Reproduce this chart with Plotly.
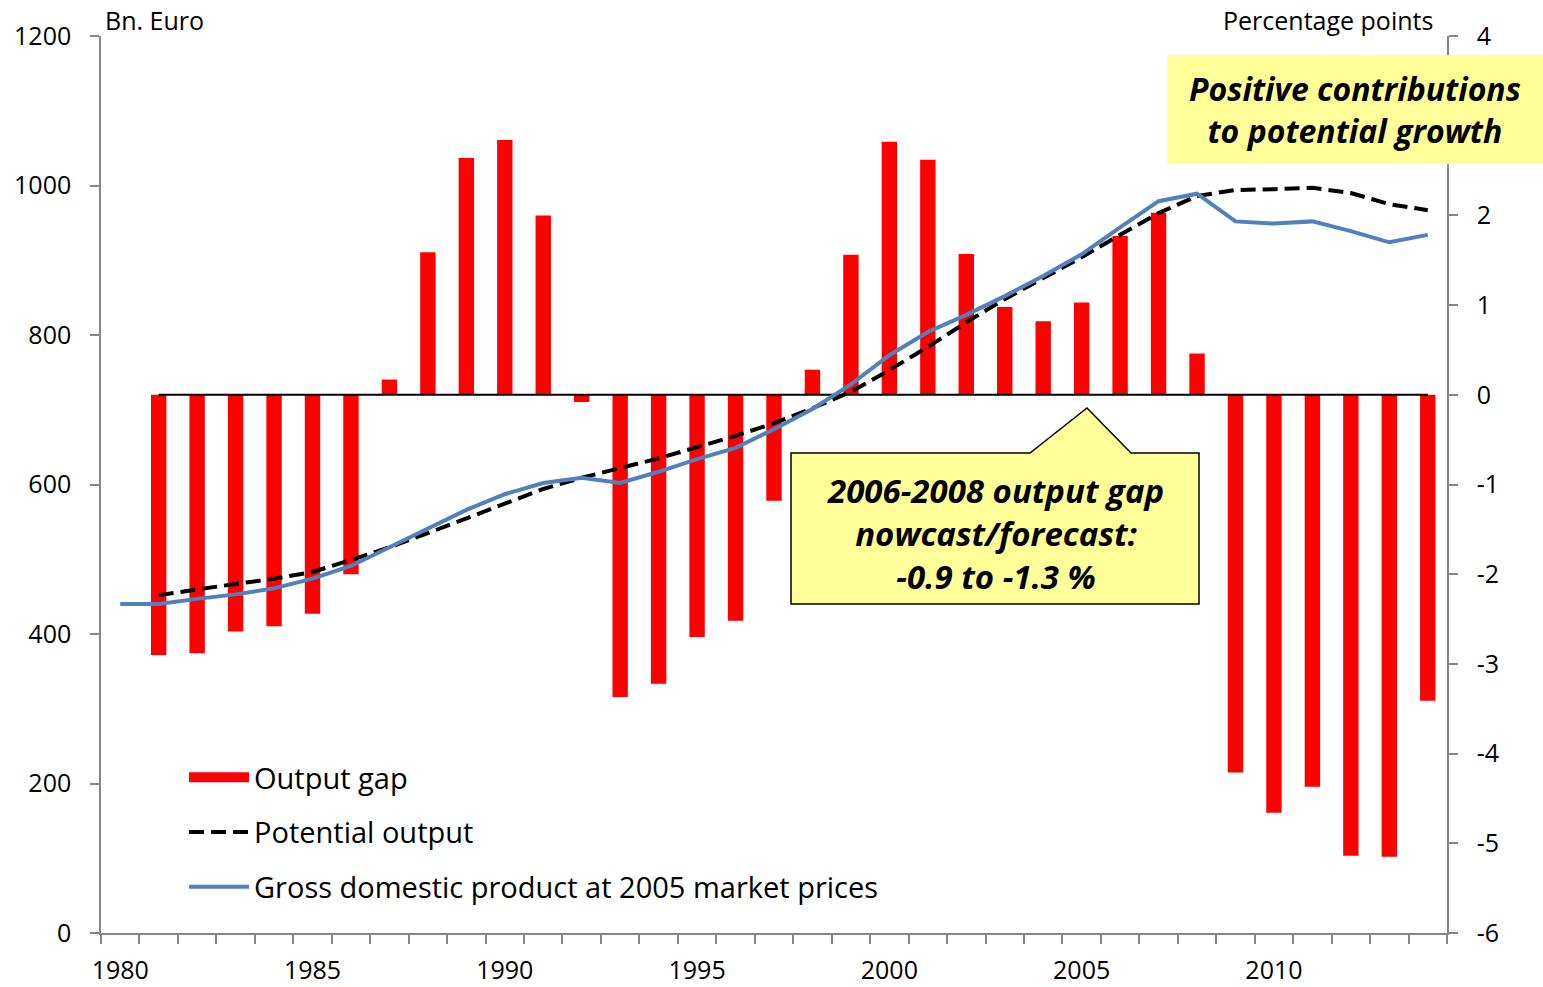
import plotly.graph_objects as go

years = list(range(1980, 2015))
gap_years = list(range(1981, 2015))
output_gap = [-2.90, -2.88, -2.64, -2.58, -2.44, -2.00, 0.17, 1.59, 2.64, 2.84,
              2.00, -0.08, -3.37, -3.22, -2.70, -2.52, -1.18, 0.28, 1.56, 2.82,
              2.62, 1.57, 0.98, 0.82, 1.03, 1.77, 2.03, 0.46, -4.21, -4.66,
              -4.37, -5.14, -5.15, -3.41]
potential_years = list(range(1981, 2015))
potential = [452, 460, 467, 474, 483, 499, 516, 535, 555, 575,
             594, 609, 622, 635, 650, 665, 682, 702, 724, 753,
             784, 817, 848, 876, 904, 934, 963, 986, 994, 995,
             997, 990, 975, 967]
gdp = [440, 440, 447, 453, 461, 474, 491, 516, 540, 566,
       587, 602, 609, 602, 617, 634, 649, 674, 701, 734,
       773, 804, 827, 852, 879, 908, 944, 979, 989, 952,
       949, 952, 939, 924, 934]
zero_line = [0] * len(gap_years)

x_tick_vals = [1980, 1985, 1990, 1995, 2000, 2005, 2010]
left_ticks = [0, 200, 400, 600, 800, 1000, 1200]
right_ticks = [-6, -5, -4, -3, -2, -1, 0, 1, 2, 3, 4]
# the "3" label sits behind the yellow box in the reference
right_tick_text = ["-6", "-5", "-4", "-3", "-2", "-1", "0", "1", "2", "", "4"]

FONT = "Open Sans, sans-serif"
AX = "#868686"

W, H = 1543, 987
L, R, T, B = 101, 1447, 36, 933


def px(x):
    return (x - L) / (R - L)


def py(y):
    return (B - y) / (B - T)


fig = go.Figure()
fig.add_trace(go.Bar(x=gap_years, y=output_gap, name="Output gap",
                     marker=dict(color="#FF0000", line=dict(width=0)),
                     width=0.4, yaxis="y", showlegend=False))
fig.add_trace(go.Scatter(x=gap_years, y=zero_line, mode="lines",
                         line=dict(color="black", width=2), yaxis="y",
                         showlegend=False, hoverinfo="skip"))
# legend entry for the bars (wide red swatch)
fig.add_trace(go.Scatter(x=[None], y=[None], mode="lines", name="Output gap",
                         line=dict(color="#FF0000", width=20), yaxis="y", legendgroup="a"))
fig.add_trace(go.Scatter(x=potential_years, y=potential, name="Potential output",
                         mode="lines", line=dict(color="black", width=4, dash="15px,7px"),
                         yaxis="y2", legendgroup="b"))
fig.add_trace(go.Scatter(x=years, y=gdp, name="Gross domestic product at 2005 market prices",
                         mode="lines", line=dict(color="#4F81BD", width=4),
                         yaxis="y2", legendgroup="c"))

fig.update_layout(
    width=W, height=H,
    margin=dict(l=L, r=W - R, t=T, b=H - B, autoexpand=False),
    paper_bgcolor="white", plot_bgcolor="white",
    font=dict(family=FONT, size=25, color="black"),
    showlegend=True,
    legend=dict(x=px(184), y=py(752), xanchor="left", yanchor="top",
                bgcolor="rgba(0,0,0,0)", tracegroupgap=14,
                font=dict(size=29), itemwidth=60),
    xaxis=dict(range=[1979.5, 2014.5], tickvals=x_tick_vals, ticks="",
               showgrid=False, zeroline=False, showline=True, linecolor=AX, linewidth=1.5,
               ticklabelstandoff=14, automargin=False,
               minor=dict(tickmode="linear", tick0=1979.5, dtick=1, ticks="outside",
                          ticklen=9, tickcolor=AX, tickwidth=1.5, showgrid=False)),
    yaxis=dict(range=[-6, 4], tickvals=right_ticks, ticktext=right_tick_text,
               side="right", showgrid=False, automargin=False,
               zeroline=False, showline=True, linecolor=AX, linewidth=1.5,
               ticks="outside", ticklen=9, tickcolor=AX, tickwidth=1.5,
               ticklabelstandoff=14),
    yaxis2=dict(range=[0, 1200], tickvals=left_ticks, side="left", overlaying="y",
                showgrid=False, zeroline=False, showline=True, linecolor=AX, linewidth=1.5,
                ticks="outside", ticklen=9, tickcolor=AX, tickwidth=1.5,
                ticklabelstandoff=14, automargin=False),
)

# callout with pointer
path = (f"M {px(791)},{py(453)} L {px(1030)},{py(453)} L {px(1087)},{py(408)} "
        f"L {px(1131)},{py(453)} L {px(1199)},{py(453)} L {px(1199)},{py(604)} "
        f"L {px(791)},{py(604)} Z")
fig.add_shape(type="path", path=path, xref="paper", yref="paper",
              fillcolor="#FFFF99", line=dict(color="black", width=1.5), layer="above")
fig.add_annotation(x=px(995), y=py(533), xref="paper", yref="paper",
                   xanchor="center", yanchor="middle",
                   text="<b><i>2006-2008 output gap<br>nowcast/forecast:<br>-0.9 to -1.3 %</i></b>",
                   showarrow=False, font=dict(size=33, family=FONT), align="center")

# top-right box
fig.add_shape(type="rect", xref="paper", yref="paper",
              x0=px(1167), x1=px(1543), y0=py(164), y1=py(55),
              fillcolor="#FFFF99", line=dict(width=0), layer="above")
fig.add_annotation(x=px(1355), y=py(110), xref="paper", yref="paper",
                   xanchor="center", yanchor="middle",
                   text="<b><i>Positive contributions<br>to potential growth</i></b>",
                   showarrow=False, font=dict(size=32, family=FONT), align="center")

# axis titles
fig.add_annotation(x=px(103), y=py(20), xref="paper", yref="paper", text="Bn. Euro",
                   showarrow=False, xanchor="left", yanchor="middle", font=dict(size=25))
fig.add_annotation(x=px(1435), y=py(20), xref="paper", yref="paper", text="Percentage points",
                   showarrow=False, xanchor="right", yanchor="middle", font=dict(size=25))

fig.write_html("out.html", config={"displayModeBar": False},
               post_script="document.body.style.margin='0px';")
